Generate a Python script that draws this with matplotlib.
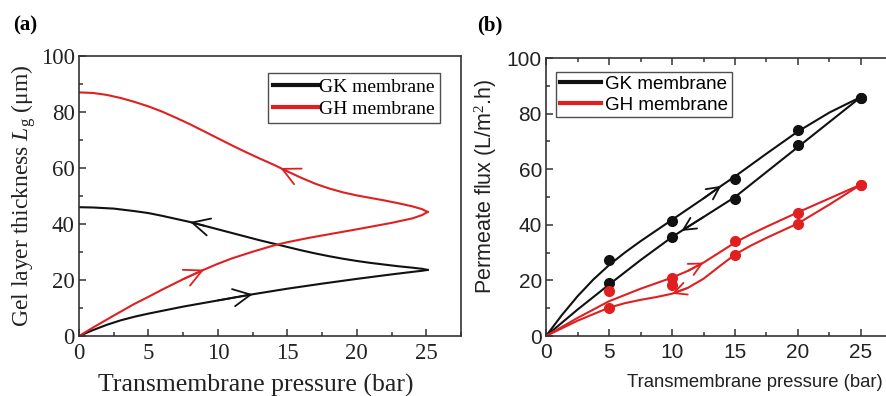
import numpy as np
import matplotlib
matplotlib.use("Agg")
import matplotlib.pyplot as plt
from matplotlib.ticker import MultipleLocator

plt.rcParams["mathtext.fontset"] = "custom"
plt.rcParams["mathtext.rm"] = "Liberation Serif"
plt.rcParams["mathtext.it"] = "Liberation Serif:italic"

# (a) gel layer thickness, loading (up) and unloading (down) branches
gk_up_p = [0, 1, 2, 3, 4, 5, 6, 7.5, 10, 12.5, 15, 17.5, 20, 22.5, 24, 24.7, 25.1]
gk_up_l = [0, 2.1, 4.0, 5.6, 6.9, 8.0, 9.0, 10.5, 12.7, 14.9, 16.9, 18.7, 20.4, 22.0, 22.9, 23.3, 23.6]
gk_dn_p = [25.1, 24.7, 24, 23, 22, 21, 20, 19, 18, 17, 16, 15, 14, 13, 12, 11, 10, 9, 8, 7, 6, 5, 4, 2.5, 1, 0]
gk_dn_l = [23.6, 24.0, 24.4, 24.9, 25.5, 26.1, 26.8, 27.6, 28.5, 29.5, 30.6, 31.8, 33.0, 34.2, 35.5, 36.8,
           38.1, 39.4, 40.7, 41.8, 42.9, 43.9, 44.6, 45.5, 45.9, 46.0]

gh_up_p = [0, 1, 2.5, 4, 5, 6, 7.5, 9, 10, 11, 12.5, 14, 15, 16.5, 17.5, 20, 22.5, 24, 24.7, 25.1]
gh_up_l = [0, 3.0, 7.3, 11.5, 14.0, 16.6, 20.3, 23.7, 25.8, 27.7, 30.1, 32.3, 33.5, 35.0, 35.9, 38.1,
           40.4, 42.0, 43.2, 44.3]
gh_dn_p = [25.1, 24.7, 24, 23, 22, 21, 20, 19, 18, 17, 16, 15, 14.5, 14, 13, 12, 11, 10, 9, 8, 7, 6, 5,
           4, 3, 2, 1, 0]
gh_dn_l = [44.3, 45.3, 46.3, 47.4, 48.4, 49.3, 50.2, 51.3, 52.7, 54.4, 56.5, 58.8, 60.0, 61.2, 63.4,
           65.7, 68.1, 70.6, 73.1, 75.6, 77.9, 80.1, 82.0, 83.6, 85.0, 86.1, 86.8, 87.0]

# (b) permeate flux: measured points
exp_p = [5, 10, 15, 20, 25]
gk_up_j = [27.5, 41.2, 56.3, 74.0, 85.5]
gk_dn_j = [19.0, 35.6, 49.2, 68.7, 85.5]
gh_up_j = [16.1, 20.8, 34.0, 44.4, 54.5]
gh_dn_j = [10.2, 18.2, 29.3, 40.3, 54.5]

# (b) fitted curves
fit_gk_up_p = [0, 1.25, 2.5, 3.75, 5, 6.25, 7.5, 10, 12.5, 13.9, 15, 17.5, 20, 22.5, 25]
fit_gk_up_j = [0, 7.5, 14.3, 20.3, 25.5, 30.0, 34.1, 41.8, 49.5, 54.0, 57.4, 65.6, 73.6, 80.4, 86.0]
fit_gk_dn_p = [0, 2.5, 5, 7.5, 10, 10.75, 12.5, 15, 17.5, 20, 22.5, 25]
fit_gk_dn_j = [0, 9.5, 18.5, 27.3, 35.6, 37.8, 42.8, 50.0, 59.0, 68.0, 77.0, 86.0]
fit_gh_up_p = [0, 2.5, 5, 7.5, 8.75, 10, 11.25, 12.5, 13.75, 15, 16.25, 17.5, 20, 22.5, 25]
fit_gh_up_j = [0, 6.5, 12.5, 17.0, 19.0, 21.0, 23.4, 26.4, 30.0, 33.6, 36.6, 39.3, 44.5, 49.5, 54.5]
fit_gh_dn_p = [0, 2.5, 5, 6.25, 7.5, 8.75, 10, 11.25, 12.5, 13.75, 15, 16.25, 17.5, 20, 22.5, 25]
fit_gh_dn_j = [0, 5.5, 10.2, 11.8, 13.0, 14.0, 15.2, 17.3, 20.6, 25.0, 29.3, 32.5, 35.3, 40.5, 47.3, 54.5]

BLACK = "#111111"
RED = "#e02020"


def add_arrow(ax, xs, ys, i, color, size):
    # open chevron arrow head on the curve, pointing from point i-1 to point i
    ax.annotate(
        "",
        xy=(xs[i], ys[i]),
        xytext=(xs[i - 1], ys[i - 1]),
        arrowprops=dict(
            arrowstyle=f"->,head_length={size},head_width={size / 2}",
            color=color,
            lw=1.3,
            shrinkA=0,
            shrinkB=0,
            mutation_scale=10,
        ),
    )


def style_axes(ax, font, size, top_ticks):
    ax.set_xlim(0, 27.5)
    ax.set_ylim(0, 100)
    ax.xaxis.set_major_locator(MultipleLocator(5))
    ax.xaxis.set_minor_locator(MultipleLocator(2.5))
    ax.yaxis.set_major_locator(MultipleLocator(20))
    ax.yaxis.set_minor_locator(MultipleLocator(10))
    ax.tick_params(which="both", direction="in", top=top_ticks, right=False,
                   width=1.1, labelsize=size, colors="#333333")
    ax.tick_params(axis="x", pad=5)
    ax.tick_params(axis="y", pad=3)
    ax.tick_params(which="major", length=5)
    ax.tick_params(which="minor", length=3)
    for lab in ax.get_xticklabels() + ax.get_yticklabels():
        lab.set_family(font)
        lab.set_color("#222222")
    for s in ax.spines.values():
        s.set_linewidth(1.2)
        s.set_color("#333333")


fig = plt.figure(figsize=(8.86, 3.96), dpi=100)

# ---- panel (a)
ax1 = fig.add_axes([0.0892, 0.1515, 0.4311, 0.7071])
ax1.plot(gk_up_p, gk_up_l, color=BLACK, lw=1.5, label="GK membrane")
ax1.plot(gk_dn_p, gk_dn_l, color=BLACK, lw=1.5)
ax1.plot(gh_up_p, gh_up_l, color=RED, lw=1.5, label="GH membrane")
ax1.plot(gh_dn_p, gh_dn_l, color=RED, lw=1.5)
add_arrow(ax1, gk_up_p, gk_up_l, 9, BLACK, 1.25)
add_arrow(ax1, gk_dn_p, gk_dn_l, 18, BLACK, 1.25)
add_arrow(ax1, gh_up_p, gh_up_l, 7, RED, 1.25)
add_arrow(ax1, gh_dn_p, gh_dn_l, 12, RED, 1.25)
style_axes(ax1, "Liberation Serif", 16.5, False)
ax1.set_xlabel("Transmembrane pressure (bar)", family="Liberation Serif",
               fontsize=18.5, color="#222222")
ax1.xaxis.set_label_coords(0.463, -0.135)
ax1.set_ylabel("Gel layer thickness $L_{\\mathrm{g}}$ (μm)", family="Liberation Serif",
               fontsize=17, color="#222222", labelpad=2)
leg1 = ax1.legend(loc="upper right", bbox_to_anchor=(0.945, 0.939),
                  prop={"family": "Liberation Serif", "size": 14},
                  frameon=True, fancybox=False, edgecolor="#222222",
                  handlelength=2.3, handletextpad=0.1, borderpad=0.25,
                  labelspacing=0.25, borderaxespad=0.0)
leg1.get_frame().set_linewidth(1.0)
for h in leg1.get_lines():
    h.set_linewidth(3)
fig.text(0.015, 0.935, "(a)", family="Liberation Serif", fontweight="bold",
         fontsize=15, va="center", ha="left")

# ---- panel (b)
ax2 = fig.add_axes([0.6163, 0.1515, 0.391, 0.702])
ax2.plot(fit_gk_up_p, fit_gk_up_j, color=BLACK, lw=1.5, label="GK membrane")
ax2.plot(fit_gk_dn_p, fit_gk_dn_j, color=BLACK, lw=1.5)
ax2.plot(fit_gh_up_p, fit_gh_up_j, color=RED, lw=1.5, label="GH membrane")
ax2.plot(fit_gh_dn_p, fit_gh_dn_j, color=RED, lw=1.5)
ax2.plot(exp_p, gk_up_j, "o", color=BLACK, ms=7)
ax2.plot(exp_p, gk_dn_j, "o", color=BLACK, ms=7)
ax2.plot(exp_p, gh_up_j, "o", color=RED, ms=7)
ax2.plot(exp_p, gh_dn_j, "o", color=RED, ms=7)
add_arrow(ax2, fit_gk_up_p, fit_gk_up_j, 9, BLACK, 0.9)
add_arrow(ax2, fit_gk_dn_p[::-1], fit_gk_dn_j[::-1], 6, BLACK, 0.9)
add_arrow(ax2, fit_gh_up_p, fit_gh_up_j, 7, RED, 0.9)
add_arrow(ax2, fit_gh_dn_p[::-1], fit_gh_dn_j[::-1], 9, RED, 0.9)
style_axes(ax2, "Liberation Sans", 15, True)
ax2.set_xlabel("Transmembrane pressure (bar)", family="Liberation Sans",
               fontsize=13.3, color="#222222")
ax2.xaxis.set_label_coords(0.603, -0.135)
ax2.set_ylabel("Permeate flux (L/m$^2$.h)", family="Liberation Sans",
               fontsize=15.5, color="#222222")
ax2.yaxis.set_label_coords(-0.135, 0.54)
leg2 = ax2.legend(loc="upper left", bbox_to_anchor=(0.03, 0.95),
                  prop={"family": "Liberation Sans", "size": 13.5},
                  frameon=True, fancybox=False, edgecolor="#222222",
                  handlelength=2.2, handletextpad=0.2, borderpad=0.2,
                  labelspacing=0.2, borderaxespad=0.0)
leg2.get_frame().set_linewidth(1.0)
for h in leg2.get_lines():
    h.set_linewidth(3)
fig.text(0.538, 0.935, "(b)", family="Liberation Serif", fontweight="bold",
         fontsize=15, va="center", ha="left")

fig.savefig("out.png", dpi=100)
